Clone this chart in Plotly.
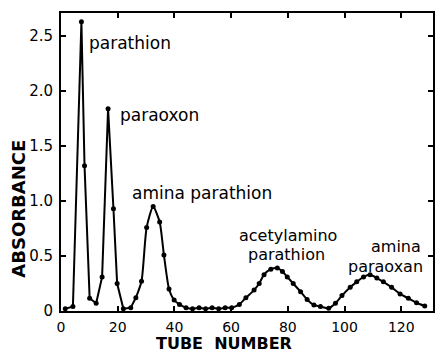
import plotly.graph_objects as go

# Elution profile: tube number vs absorbance
tube = [1.5, 4.2, 7.2, 8.3, 10.1, 12.4, 14.5, 16.6, 18.5, 19.8,
        22.0, 24.6, 26.4, 28.4, 30.2, 32.5, 34.8, 36.3, 38.1, 39.9,
        41.8, 44.1, 46.4, 48.7, 51.0, 53.3, 55.6, 57.9, 60.2, 62.9,
        65.2, 68.1, 69.9, 71.6, 74.0, 76.3, 78.1, 79.8, 81.9, 84.5,
        86.8, 89.2, 91.5, 94.4, 96.8, 99.1, 102.0, 104.3, 106.7, 109.0,
        111.4, 113.7, 116.6, 119.6, 122.5, 125.4, 128.3]
absorbance = [0.02, 0.04, 2.63, 1.32, 0.115, 0.07, 0.31, 1.84, 0.93, 0.25,
              0.02, 0.03, 0.12, 0.27, 0.76, 0.95, 0.81, 0.51, 0.20, 0.10,
              0.06, 0.03, 0.02, 0.03, 0.02, 0.03, 0.02, 0.03, 0.03, 0.06,
              0.12, 0.19, 0.25, 0.33, 0.38, 0.39, 0.36, 0.31, 0.25, 0.175,
              0.105, 0.055, 0.04, 0.025, 0.07, 0.14, 0.215, 0.265, 0.31, 0.33,
              0.30, 0.265, 0.215, 0.155, 0.115, 0.075, 0.045]

x_ticks = [0, 20, 40, 60, 80, 100, 120]
y_ticks = [0, 0.5, 1.0, 1.5, 2.0, 2.5]
y_tick_text = ["0", "0.5", "1.0", "1.5", "2.0", "2.5"]

# Peak labels: (text, tube, absorbance, xanchor, font size)
peak_labels = [
    ("parathion", 9.25, 2.44, "left", 17),
    ("paraoxon", 20.1, 1.78, "left", 17),
    ("amina parathion", 24.3, 1.07, "left", 17),
    ("acetylamino", 80.2, 0.69, "center", 16),
    ("parathion", 79.7, 0.51, "center", 16),
    ("amina", 127.8, 0.585, "right", 16),
    ("paraoxan", 128.4, 0.405, "right", 16),
]

FONT = "DejaVu Sans"
split = 12  # sharp early peaks drawn straight, broader peaks smoothed

fig = go.Figure()
fig.add_trace(go.Scatter(x=tube[:split + 1], y=absorbance[:split + 1], mode="lines",
                         line=dict(color="black", width=2), hoverinfo="skip"))
fig.add_trace(go.Scatter(x=tube[split:], y=absorbance[split:], mode="lines",
                         line=dict(color="black", width=2, shape="spline", smoothing=0.6),
                         hoverinfo="skip"))
fig.add_trace(go.Scatter(x=tube, y=absorbance, mode="markers",
                         marker=dict(color="black", size=5)))

annotations = []
for text, tx, ty, anchor, size in peak_labels:
    annotations.append(dict(x=tx, y=ty, xref="x", yref="y", text=text, showarrow=False,
                            xanchor=anchor, yanchor="middle",
                            font=dict(family=FONT, size=size, color="black")))

annotations.append(dict(x=57.6, y=0, xref="x", yref="paper", yshift=-43,
                        text="TUBE\u00a0\u00a0NUMBER", showarrow=False, borderpad=0,
                        xanchor="center", yanchor="bottom",
                        font=dict(family=FONT, size=16, color="black", weight="bold")))
annotations.append(dict(x=-0.115, y=0.344, xref="paper", yref="paper",
                        text="ABSORBANCE", showarrow=False, textangle=-90,
                        xanchor="center", yanchor="middle",
                        font=dict(family=FONT, size=18, color="black", weight="bold")))

fig.update_layout(
    width=437, height=354,
    margin=dict(l=61, r=2, t=13, b=43),
    paper_bgcolor="white", plot_bgcolor="white",
    showlegend=False,
    annotations=annotations,
    xaxis=dict(range=[0, 131.2], tickvals=x_ticks, ticks="inside", ticklen=5,
               tickwidth=1.5, tickcolor="black", showgrid=False, zeroline=False,
               showline=True, linecolor="black", linewidth=2, mirror="ticks",
               ticklabelstandoff=2,
               tickfont=dict(family=FONT, size=14, color="black")),
    yaxis=dict(range=[0, 2.71], tickvals=y_ticks, ticktext=y_tick_text, ticks="inside",
               ticklen=5, tickwidth=1.5, tickcolor="black", showgrid=False,
               zeroline=False, showline=True, linecolor="black", linewidth=2,
               mirror="ticks", ticklabelstandoff=3,
               tickfont=dict(family=FONT, size=15, color="black")),
)

fig.write_html("out.html")
